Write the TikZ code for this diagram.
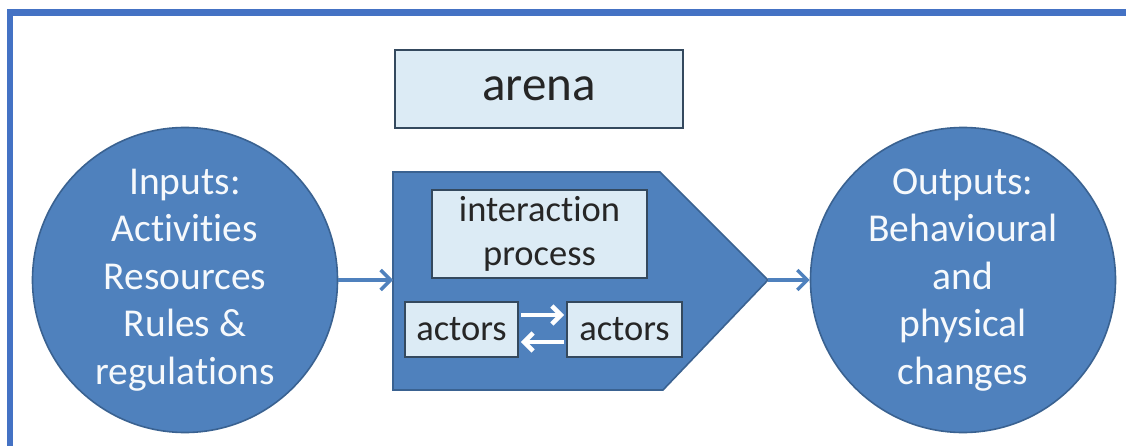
\documentclass[tikz,border=0pt]{standalone}
\usepackage{fontspec}
\setmainfont{Carlito}[Ligatures={NoCommon}]
\usetikzlibrary{arrows.meta,positioning}
\definecolor{frameblue}{HTML}{4472C4}
\definecolor{bubble}{HTML}{4F81BD}
\definecolor{bubbleedge}{HTML}{3A6291}
\definecolor{paleblue}{HTML}{DCEBF5}
\definecolor{boxedge}{HTML}{34495E}
\begin{document}
\begin{tikzpicture}[x=1pt,y=-1pt,
    bubblenode/.style={circle, fill=bubble, draw=bubbleedge, line width=1.6pt,
      minimum size=305pt, inner sep=0pt, align=center, text=white!95!bubble,
      font=\fontsize{39.5}{47.5}\selectfont},
    palebox/.style={rectangle, fill=paleblue, draw=boxedge, line width=1.6pt,
      inner sep=0pt, align=center, text=black!85,
      font=\fontsize{36.5}{44}\selectfont},
    flow/.style={draw=bubble, line width=3.4pt,
      -{Straight Barb[length=10pt,width=20pt,line width=3.4pt]}},
    swapflow/.style={draw=white, line width=4.6pt, shorten <=2pt, shorten >=2pt,
      -{Straight Barb[length=9pt,width=18pt,line width=4.6pt]}}]
  \useasboundingbox (0,0) rectangle (1126,446);
  % frame
  \draw [frameblue, line width=6.5pt] (10,452) -- (10,12.5) -- (1132,12.5);
  % arena
  \node [palebox, minimum width=288pt, minimum height=78pt,
    font=\fontsize{49}{52}\selectfont] (arena) at (539,89) {arena};
  % inputs and outputs
  \node [bubblenode] (inputs) at (185,280) {Inputs:\\Activities\\Resources\\Rules \&\\regulations};
  \node [bubblenode] (outputs) at (963,280) {Outputs:\\Behavioural\\and\\physical\\changes};
  % process shape
  \filldraw [fill=bubble, draw=bubbleedge, line width=1.6pt]
    (393,172) -- (660,172) -- (768,280) coordinate (tip) -- (663,390) -- (393,390) -- cycle;
  \coordinate (pin) at (393,280);
  \node [palebox, minimum width=215pt, minimum height=88pt] (process) at (539.5,234) {interaction\\process};
  \node [palebox, minimum width=113pt, minimum height=55pt] (actorsl) at (461.5,329.5) {actors};
  \node [palebox, minimum width=115pt, minimum height=55pt] (actorsr) at (624.5,329.5) {actors};
  \draw [swapflow] ([yshift=14.5pt]actorsl.east) -- ([yshift=14.5pt]actorsr.west);
  \draw [swapflow] ([yshift=-12.5pt]actorsr.west) -- ([yshift=-12.5pt]actorsl.east);
  % flows
  \draw [flow] (inputs) -- (pin);
  \draw [flow] (tip) -- (outputs);
\end{tikzpicture}
\end{document}
